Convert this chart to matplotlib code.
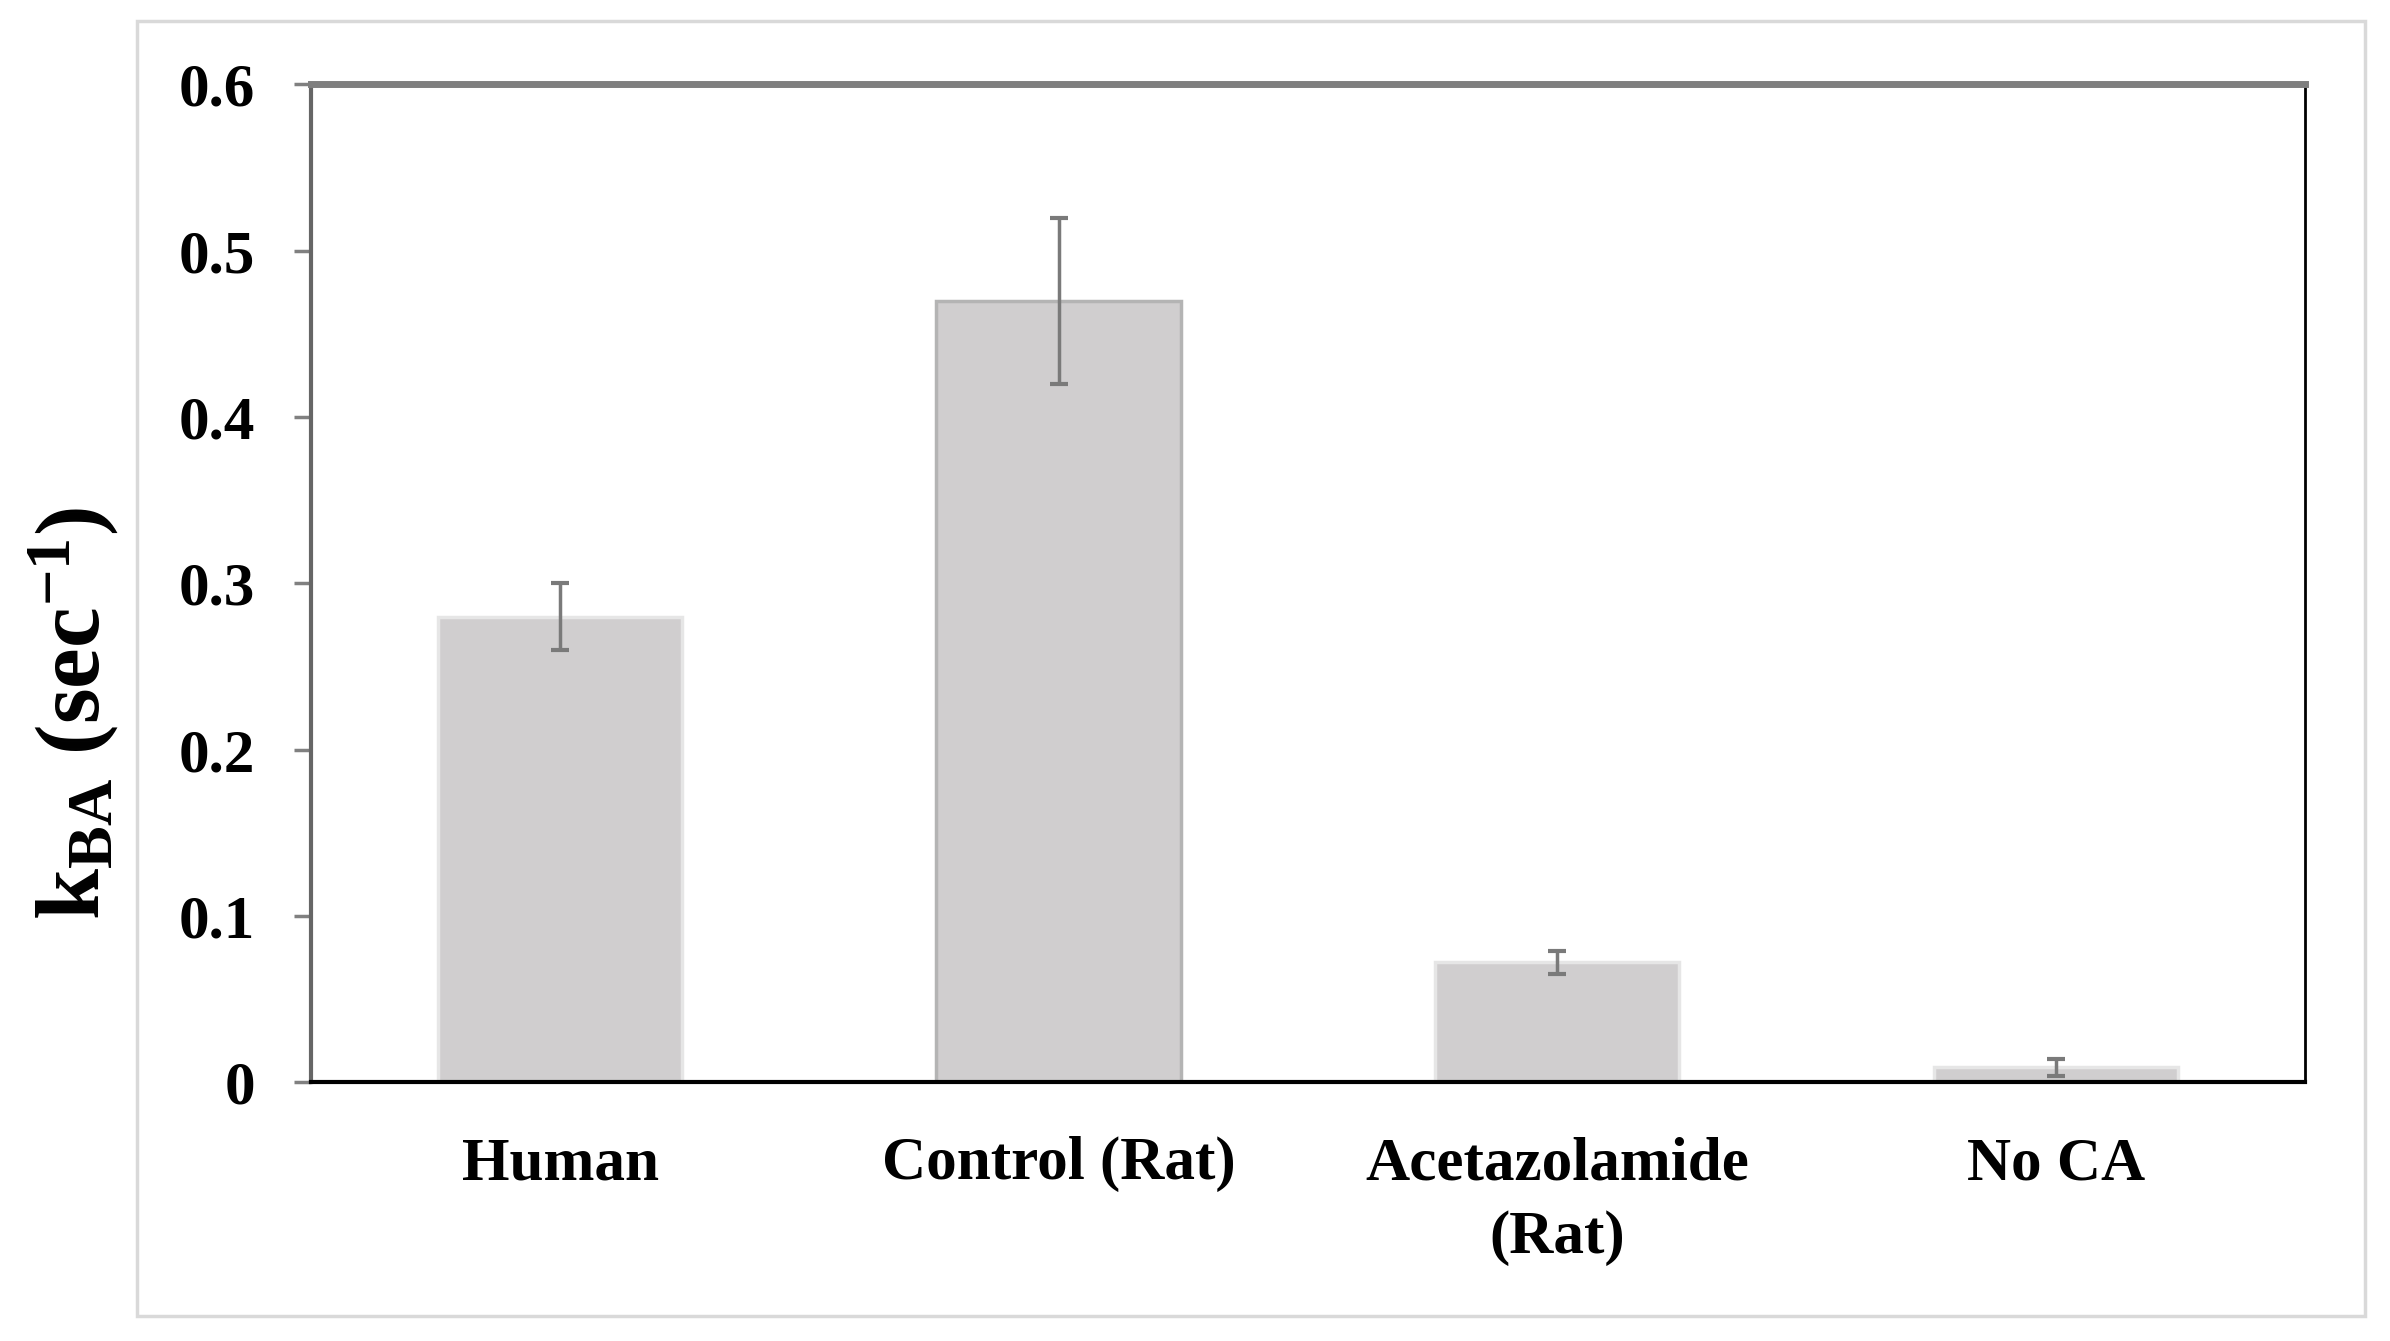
import matplotlib
matplotlib.use("Agg")
import matplotlib.pyplot as plt
from matplotlib.patches import Rectangle

# kBA for each condition, with error
groups = ["Human", "Control (Rat)", "Acetazolamide\n(Rat)", "No CA"]
kba = [0.28, 0.47, 0.072, 0.009]
err = [0.02, 0.05, 0.007, 0.005]
yticks = [0, 0.1, 0.2, 0.3, 0.4, 0.5, 0.6]
ytick_labels = ["0", "0.1", "0.2", "0.3", "0.4", "0.5", "0.6"]

plt.rcParams['font.family'] = ['Liberation Serif', 'DejaVu Serif']
plt.rcParams['font.weight'] = 'bold'
plt.rcParams['mathtext.fontset'] = 'custom'
plt.rcParams['mathtext.rm'] = 'Liberation Serif:bold'
plt.rcParams['mathtext.bf'] = 'Liberation Serif:bold'
plt.rcParams['mathtext.it'] = 'Liberation Serif:bold'

fig = plt.figure(figsize=(23.9, 13.41), dpi=100)
ax = fig.add_axes([0.130, 0.193, 0.8345, 0.744])

# light frame round the whole chart
fig.patches.append(Rectangle((0.0573, 0.019), 0.9895 - 0.0573, 0.984 - 0.019,
                             transform=fig.transFigure, fill=False,
                             edgecolor='#d9d9d9', linewidth=2.5))

x = range(len(groups))
edges = ['#e6e6e6', '#b4b4b4', '#e6e6e6', '#e6e6e6']
ax.bar(x, kba, width=0.49, color='#d0cecf', edgecolor=edges, linewidth=2.5, zorder=2)
ax.errorbar(x, kba, yerr=err, fmt='none', ecolor='#7a7a7a', elinewidth=2.5,
            capsize=6.5, capthick=3, zorder=3)

ax.set_xlim(-0.5, 3.5)
ax.set_ylim(0, 0.6)
ax.set_yticks(yticks)
ax.set_yticklabels(ytick_labels)
ax.set_xticks(list(x))
ax.set_xticklabels(groups, linespacing=1.4)
ax.tick_params(axis='y', direction='out', length=12, width=2.5, color='#808080',
               pad=28, labelsize=44)
ax.tick_params(axis='x', length=0, pad=39, labelsize=44)
for lab in ax.get_xticklabels() + ax.get_yticklabels():
    lab.set_fontweight('bold')

ax.spines['left'].set_color('#666666')
ax.spines['left'].set_linewidth(3)
ax.spines['top'].set_color('#7f7f7f')
ax.spines['top'].set_linewidth(5)
ax.spines['bottom'].set_color('black')
ax.spines['bottom'].set_linewidth(3)
ax.spines['right'].set_color('black')
ax.spines['right'].set_linewidth(2)

fig.text(0.031, 0.468, r'k$_{\mathrm{BA}}$ (sec$^{\mathrm{-1}}$)',
         rotation=90, ha='center', va='center', fontsize=66, fontweight='bold')

fig.savefig("out.png", dpi=100)
